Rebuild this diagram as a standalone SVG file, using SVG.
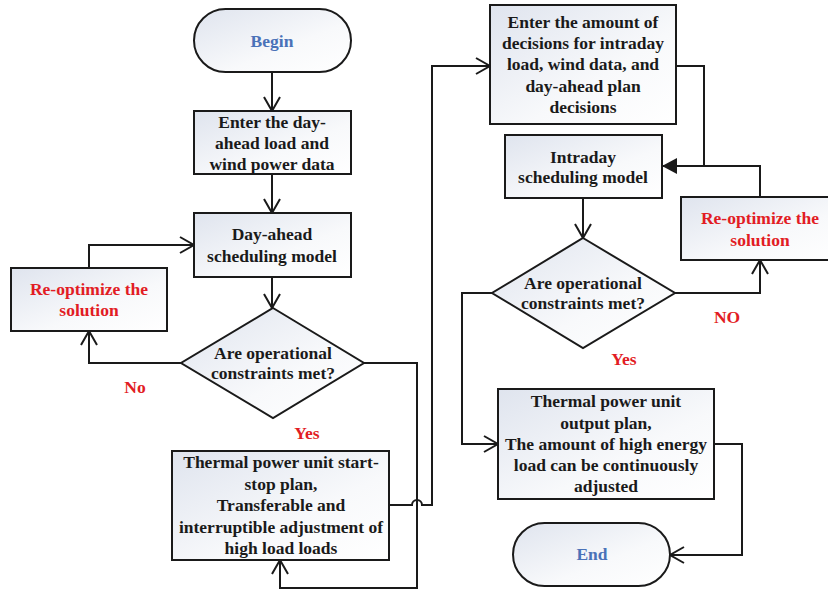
<svg xmlns="http://www.w3.org/2000/svg" width="828" height="590" viewBox="0 0 828 590">
<defs>
<linearGradient id="g" x1="0" y1="0" x2="1" y2="1">
<stop offset="0" stop-color="#dfe4ee"/>
<stop offset="0.6" stop-color="#f8f9fb"/>
<stop offset="1" stop-color="#ffffff"/>
</linearGradient>
<marker id="open" markerUnits="userSpaceOnUse" markerWidth="18" markerHeight="18" refX="15" refY="8" orient="auto" overflow="visible">
<path d="M1,0 L15,8 L1,16" fill="none" stroke="#1a1a1a" stroke-width="2"/>
</marker>
<marker id="solid" markerUnits="userSpaceOnUse" markerWidth="18" markerHeight="18" refX="15" refY="8" orient="auto" overflow="visible">
<path d="M0,0 L15,8 L0,16 Z" fill="#1a1a1a"/>
</marker>
</defs>
<style>
.box{fill:url(#g);stroke:#1a1a1a;stroke-width:2}
.t{font-family:'Liberation Serif','DejaVu Serif',serif;font-weight:bold;font-size:17.5px;fill:#1a1a1a;text-anchor:middle}
.red{fill:#e21c24}
.blue{fill:#4a72b8}
.c{fill:none;stroke:#1a1a1a;stroke-width:2}
</style>
<rect width="828" height="590" fill="#ffffff"/>
<g id="connectors">
<path class="c" d="M272,72 V111" marker-end="url(#open)"/>
<path class="c" d="M272,174 V213" marker-end="url(#open)"/>
<path class="c" d="M272,277 V308" marker-end="url(#open)"/>
<path class="c" d="M181,363 H89 V331" marker-end="url(#open)"/>
<path class="c" d="M89,268 V245 H194" marker-end="url(#open)"/>
<path class="c" d="M364,363 H417 V588 H280 V560" marker-end="url(#open)"/>
<path class="c" d="M389,505 H412 A5,5 0 0 1 422,505 H432 V66 H490" marker-end="url(#open)"/>
<path class="c" d="M676,66 H704 V166"/>
<path class="c" d="M760,197 V166 H662" marker-end="url(#solid)"/>
<path class="c" d="M583,198 V238" marker-end="url(#open)"/>
<path class="c" d="M675,293 H760 V260" marker-end="url(#open)"/>
<path class="c" d="M492,293 H462 V444 H498" marker-end="url(#open)"/>
<path class="c" d="M714,444 H742 V555 H670" marker-end="url(#open)"/>
</g>
<g id="begin">
<rect class="box" x="194" y="9" width="157" height="63" rx="31.5"/>
<text class="t blue" x="272" y="47">Begin</text>
</g>
<g id="input-dayahead">
<rect class="box" x="194" y="111" width="157" height="63"/>
<text class="t" x="272" y="128">Enter the day-</text>
<text class="t" x="272" y="149">ahead load and</text>
<text class="t" x="272" y="170">wind power data</text>
</g>
<g id="dayahead-model">
<rect class="box" x="194" y="213" width="157" height="64"/>
<text class="t" x="272" y="240">Day-ahead</text>
<text class="t" x="272" y="262">scheduling model</text>
</g>
<g id="reopt-left">
<rect class="box" x="11" y="268" width="156" height="63"/>
<text class="t red" x="89" y="295">Re-optimize the</text>
<text class="t red" x="89" y="316">solution</text>
</g>
<g id="decision-dayahead">
<polygon class="box" points="273,308 364,363 273,418 181,363"/>
<text class="t" x="273" y="359">Are operational</text>
<text class="t" x="273" y="379">constraints met?</text>
</g>
<text class="t red" x="135" y="393">No</text>
<text class="t red" x="307" y="439">Yes</text>
<g id="dayahead-result">
<rect class="box" x="172" y="451" width="217" height="109"/>
<text class="t" x="281" y="468">Thermal power unit start-</text>
<text class="t" x="281" y="490">stop plan,</text>
<text class="t" x="281" y="511">Transferable and</text>
<text class="t" x="281" y="533">interruptible adjustment of</text>
<text class="t" x="281" y="554">high load loads</text>
</g>
<g id="input-intraday">
<rect class="box" x="490" y="5" width="186" height="119"/>
<text class="t" x="583" y="28">Enter the amount of</text>
<text class="t" x="583" y="49">decisions for intraday</text>
<text class="t" x="583" y="70">load, wind data, and</text>
<text class="t" x="583" y="92">day-ahead plan</text>
<text class="t" x="583" y="113">decisions</text>
</g>
<g id="intraday-model">
<rect class="box" x="505" y="135" width="157" height="63"/>
<text class="t" x="583" y="163">Intraday</text>
<text class="t" x="583" y="183">scheduling model</text>
</g>
<g id="reopt-right">
<rect class="box" x="681" y="197" width="160" height="63"/>
<text class="t red" x="760" y="224">Re-optimize the</text>
<text class="t red" x="760" y="246">solution</text>
</g>
<g id="decision-intraday">
<polygon class="box" points="583,238 675,293 583,348 492,293"/>
<text class="t" x="583" y="289">Are operational</text>
<text class="t" x="583" y="309">constraints met?</text>
</g>
<text class="t red" x="727" y="323">NO</text>
<text class="t red" x="624" y="365">Yes</text>
<g id="intraday-result">
<rect class="box" x="498" y="389" width="216" height="110"/>
<text class="t" x="606" y="407">Thermal power unit</text>
<text class="t" x="606" y="429">output plan,</text>
<text class="t" x="606" y="450">The amount of high energy</text>
<text class="t" x="606" y="471">load can be continuously</text>
<text class="t" x="606" y="492">adjusted</text>
</g>
<g id="end">
<rect class="box" x="513" y="523" width="157" height="63" rx="31.5"/>
<text class="t blue" x="592" y="560">End</text>
</g>
</svg>
